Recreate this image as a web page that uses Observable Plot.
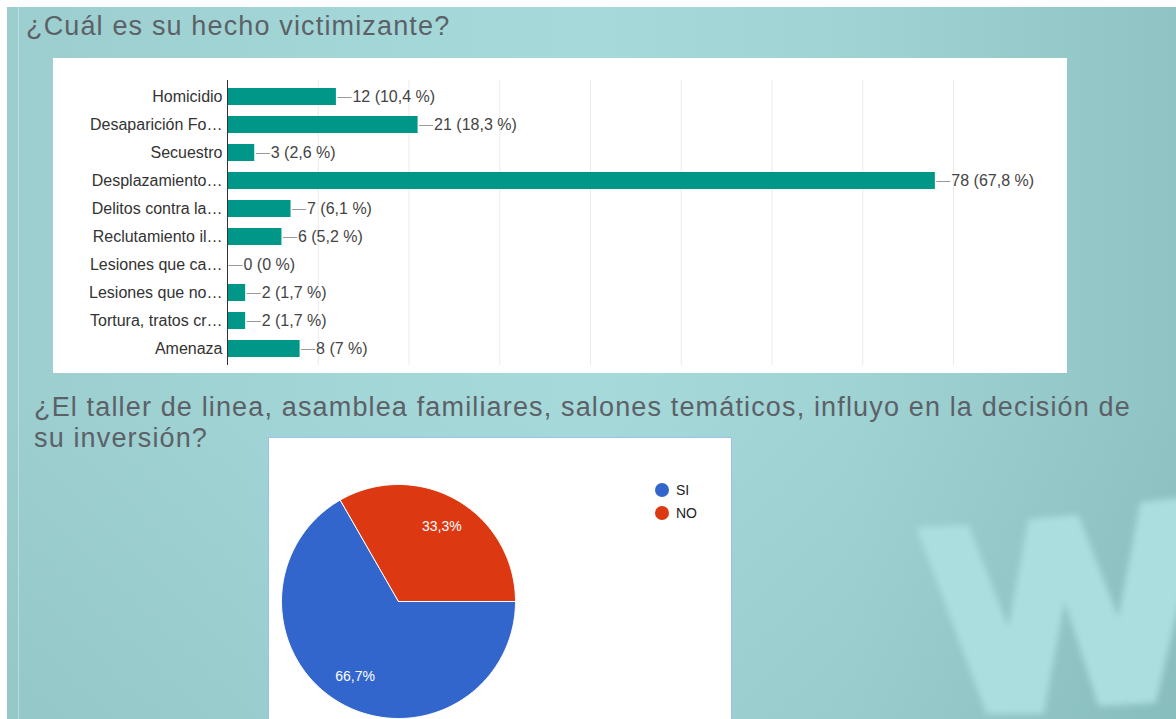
<!DOCTYPE html>
<html>
<head>
<meta charset="utf-8">
<script src="https://cdn.jsdelivr.net/npm/d3@7"></script>
<script src="https://cdn.jsdelivr.net/npm/@observablehq/plot@0.6"></script>
<style>
  html, body { margin: 0; padding: 0; }
  body { width: 1176px; height: 719px; overflow: hidden; position: relative; background: #ffffff; font-family: "Liberation Sans", Arial, sans-serif; }
  #slide { position: absolute; left: 7px; top: 7px; right: 0; bottom: 0; overflow: hidden;
    background: linear-gradient(90deg, #9ccecf 0%, #a3d6d7 30%, #a6d9da 50%, #a0d3d4 72%, #8fc3c4 100%); }
  #slide .shade { position: absolute; inset: 0; background: linear-gradient(180deg, rgba(255,255,255,0.0) 0%, rgba(255,255,255,0.0) 55%, rgba(60,120,120,0.08) 100%); }
  #slide .vline { position: absolute; left: 11px; top: 0; bottom: 0; width: 1px; background: rgba(255,255,255,0.35); }
  #wm { position: absolute; left: 0; top: 0; }
  .title { position: absolute; color: #5c6168; font-size: 27px; line-height: 31px; letter-spacing: 1.15px; white-space: nowrap; }
  #barPanel { position: absolute; left: 53px; top: 58px; width: 1014px; height: 315px; background: #fff; }
  #piePanel { position: absolute; left: 268px; top: 437px; width: 462px; height: 290px; background: #fff; border: 1px solid #9fc0ee; overflow: hidden; }
  #legend { position: absolute; left: 386px; top: 40px; font-size: 14px; color: #222; }
  #legend div { display: flex; align-items: center; height: 23px; }
  #legend span.sw { display: inline-block; width: 14px; height: 14px; border-radius: 50%; margin-right: 7px; }
</style>
</head>
<body>
<div id="slide">
  <div class="shade"></div>
  <div class="vline"></div>
  <svg id="wm" width="1169" height="712">
    <defs><filter id="bl"><feGaussianBlur stdDeviation="3"/></filter></defs>
    <polygon filter="url(#bl)" fill="#abdfdf" stroke="#abdfdf" stroke-width="4" stroke-linejoin="round"
      points="912,522 960,520 1002,628 1023,514 1070,510 1112,618 1135,497 1180,492 1180,555 1147,694 1093,697 1057,586 1035,705 981,705"/>
  </svg>
</div>
<div class="title" style="left:26px; top:11px;">¿Cuál es su hecho victimizante?</div>
<div class="title" style="left:34px; top:392px;">¿El taller de linea, asamblea familiares, salones temáticos, influyo en la decisión de<br>su inversión?</div>
<div id="barPanel"></div>
<div id="piePanel"><div id="legend"></div></div>
<script>
// ---- Bar chart data ----
const categories = ["Homicidio", "Desaparición Fo…", "Secuestro", "Desplazamiento…", "Delitos contra la…", "Reclutamiento il…", "Lesiones que ca…", "Lesiones que no…", "Tortura, tratos cr…", "Amenaza"];
const counts = [12, 21, 3, 78, 7, 6, 0, 2, 2, 8];
const percents = ["10,4", "18,3", "2,6", "67,8", "6,1", "5,2", "0", "1,7", "1,7", "7"];
const gridTicks = [10, 20, 30, 40, 50, 60, 70, 80];

// ---- Pie chart data ----
const pieKeys = ["SI", "NO"];
const pieValues = [66.7, 33.3];
const pieLabels = ["66,7%", "33,3%"];
const pieColors = ["#3366cc", "#dc3912"];

const barData = categories.map((c, i) => ({cat: c, count: counts[i], pct: percents[i]}));

const bar = Plot.plot({
  width: 1014,
  height: 315,
  marginLeft: 174,
  marginRight: 114,
  marginTop: 22,
  marginBottom: 8,
  style: {fontFamily: "'Liberation Sans', Arial, sans-serif", fontSize: "16px", color: "#333", background: "white", overflow: "visible"},
  x: {domain: [0, 80], axis: null},
  y: {domain: categories, paddingInner: 0.38, paddingOuter: 0.19, axis: null},
  marks: [
    Plot.ruleX(gridTicks, {stroke: "#ebebeb", strokeWidth: 1}),
    Plot.barX(barData, {x: "count", y: "cat", fill: "#009688"}),
    Plot.ruleX([0], {stroke: "#333", strokeWidth: 1}),
    Plot.axisY({tickSize: 0, tickPadding: 5, fontSize: 16, fill: "#333", label: null}),
    Plot.text(barData, {x: "count", y: "cat", text: () => "—", dx: 1, textAnchor: "start", fill: "#999", fontSize: 14}),
    Plot.text(barData, {x: "count", y: "cat", text: d => `${d.count} (${d.pct} %)`, dx: 16, textAnchor: "start", fill: "#444", fontSize: 16})
  ]
});
document.getElementById("barPanel").appendChild(bar);

// ---- Pie geometry from values (clockwise from north, starting at 3 o'clock) ----
const total = d3.sum(pieValues);
const start0 = Math.PI / 2;
let acc = 0;
const slices = pieKeys.map((k, i) => {
  const a0 = start0 + acc / total * 2 * Math.PI;
  acc += pieValues[i];
  const a1 = start0 + acc / total * 2 * Math.PI;
  return {key: k, a0, a1, label: pieLabels[i]};
});
const piePts = [];
for (const s of slices) {
  piePts.push({key: s.key, x: 0, y: 0});
  const n = Math.max(2, Math.ceil((s.a1 - s.a0) / (Math.PI / 180)));
  for (let j = 0; j <= n; j++) {
    const a = s.a0 + (s.a1 - s.a0) * j / n;
    piePts.push({key: s.key, x: Math.sin(a), y: Math.cos(a)});
  }
  piePts.push({key: s.key, x: 0, y: 0});
}
const labelPts = slices.map(s => {
  const m = (s.a0 + s.a1) / 2;
  return {key: s.key, x: 0.74 * Math.sin(m), y: 0.74 * Math.cos(m), label: s.label};
});

const pie = Plot.plot({
  width: 462,
  height: 290,
  style: {fontFamily: "'Liberation Sans', Arial, sans-serif", background: "white"},
  x: {domain: [-1, 1], range: [12, 246], axis: null},
  y: {domain: [-1, 1], range: [280, 46], axis: null},
  color: {domain: pieKeys, range: pieColors},
  marks: [
    Plot.line(piePts, {x: "x", y: "y", z: "key", fill: "key", stroke: "white", strokeWidth: 1, curve: "linear"}),
    Plot.text(labelPts, {x: "x", y: "y", text: "label", fill: "white", fontSize: 14})
  ]
});
const pp = document.getElementById("piePanel");
pp.insertBefore(pie, pp.firstChild);

const legend = document.getElementById("legend");
pieKeys.forEach((k, i) => {
  const row = document.createElement("div");
  row.innerHTML = `<span class="sw" style="background:${pieColors[i]}"></span><span>${k}</span>`;
  legend.appendChild(row);
});
</script>
</body>
</html>
